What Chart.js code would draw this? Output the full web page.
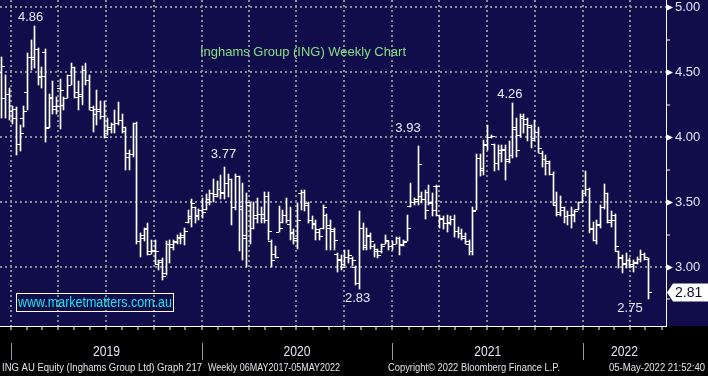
<!DOCTYPE html>
<html>
<head>
<meta charset="utf-8">
<title>Inghams Group (ING) Weekly Chart</title>
<script src="https://cdn.jsdelivr.net/npm/chart.js@4.4.1/dist/chart.umd.min.js"></script>
<style>
    html, body { margin: 0; padding: 0; background: #000; }
    #chart-wrap { width: 708px; height: 376px; }
</style>
</head>
<body>
<div id="chart-wrap"><canvas id="ing-weekly-chart" width="708" height="376"></canvas></div>
<script>
// weekly bars, week ending 14 Dec 2018 through 6 May 2022
var firstWeek = '2018-12-14';

var weekOpen = [
    4.50, 4.30, 4.33, 4.20, 4.22, 3.95, 4.15, 4.35, 4.62, 4.62, 4.68, 4.47, 4.66, 4.08, 4.30, 4.22, 4.38, 4.25, 4.30, 4.48,
    4.54, 4.35, 4.33, 4.52, 4.44, 4.23, 4.22, 4.20, 4.16, 4.03, 4.06, 4.10, 4.11, 4.13, 4.05, 3.85, 3.87, 4.11, 3.20, 3.25,
    3.30, 3.12, 3.12, 3.02, 3.05, 2.95, 3.18, 3.15, 3.20, 3.22, 3.25, 3.35, 3.38, 3.46, 3.40, 3.44, 3.45, 3.50, 3.57, 3.56,
    3.60, 3.58, 3.65, 3.68, 3.46, 3.70, 3.45, 3.25, 3.48, 3.30, 3.40, 3.41, 3.38, 3.55, 3.20, 3.10, 3.27, 3.35, 3.40, 3.33,
    3.26, 3.22, 3.57, 3.58, 3.48, 3.36, 3.34, 3.27, 3.30, 3.40, 3.32, 3.28, 3.10, 3.05, 3.02, 3.08, 3.07, 3.00, 2.88, 3.30,
    3.17, 3.24, 3.16, 3.12, 3.12, 3.18, 3.20, 3.16, 3.18, 3.22, 3.17, 3.20, 3.47, 3.50, 3.52, 3.55, 3.52, 3.58, 3.50, 3.62,
    3.40, 3.37, 3.34, 3.35, 3.37, 3.28, 3.26, 3.22, 3.18, 3.12, 3.44, 3.84, 3.75, 3.95, 4.00, 3.95, 3.80, 3.88, 3.90, 3.82,
    3.86, 4.06, 4.02, 4.16, 4.14, 4.08, 3.99, 4.04, 3.88, 3.83, 3.80, 3.72, 3.48, 3.42, 3.44, 3.39, 3.40, 3.41, 3.45, 3.50,
    3.57, 3.60, 3.30, 3.21, 3.33, 3.46, 3.57, 3.36, 3.40, 3.12, 3.08, 3.02, 3.05, 3.02, 3.03, 3.06, 3.10, 3.06
];
var weekHigh = [
    4.62, 4.48, 4.38, 4.24, 4.23, 4.09, 4.24, 4.65, 4.75, 4.86, 4.69, 4.54, 4.68, 4.33, 4.43, 4.31, 4.45, 4.31, 4.48, 4.57,
    4.54, 4.43, 4.55, 4.57, 4.48, 4.24, 4.36, 4.28, 4.28, 4.15, 4.11, 4.21, 4.27, 4.18, 4.08, 3.90, 4.11, 4.12, 3.26, 3.30,
    3.34, 3.21, 3.21, 3.05, 3.07, 3.20, 3.21, 3.21, 3.25, 3.26, 3.30, 3.44, 3.52, 3.46, 3.45, 3.53, 3.56, 3.59, 3.68, 3.66,
    3.71, 3.77, 3.72, 3.68, 3.72, 3.70, 3.65, 3.57, 3.49, 3.50, 3.53, 3.46, 3.58, 3.58, 3.21, 3.16, 3.47, 3.44, 3.53, 3.46,
    3.29, 3.49, 3.59, 3.59, 3.50, 3.39, 3.36, 3.29, 3.48, 3.41, 3.36, 3.30, 3.11, 3.09, 3.13, 3.13, 3.08, 3.01, 3.43, 3.34,
    3.30, 3.26, 3.18, 3.14, 3.18, 3.25, 3.20, 3.20, 3.23, 3.23, 3.21, 3.40, 3.65, 3.53, 3.93, 3.58, 3.59, 3.63, 3.57, 3.63,
    3.40, 3.39, 3.40, 3.39, 3.40, 3.31, 3.29, 3.26, 3.21, 3.46, 3.87, 3.87, 3.98, 4.09, 4.02, 3.95, 3.94, 3.94, 3.94, 3.97,
    4.26, 4.15, 4.18, 4.18, 4.15, 4.09, 4.13, 4.08, 3.89, 3.86, 3.82, 3.73, 3.58, 3.55, 3.46, 3.43, 3.46, 3.44, 3.50, 3.59,
    3.74, 3.61, 3.35, 3.36, 3.48, 3.64, 3.57, 3.43, 3.41, 3.12, 3.09, 3.11, 3.07, 3.05, 3.08, 3.13, 3.11, 3.07
];
var weekLow = [
    4.15, 4.15, 4.13, 4.10, 3.86, 3.89, 4.08, 4.21, 4.52, 4.53, 4.40, 4.38, 3.96, 4.07, 4.18, 4.18, 4.06, 4.21, 4.30, 4.40,
    4.30, 4.21, 4.25, 4.40, 4.21, 4.04, 4.09, 4.14, 3.99, 4.02, 4.03, 4.03, 4.09, 4.03, 3.75, 3.75, 3.85, 3.18, 3.08, 3.20,
    3.09, 3.10, 3.02, 2.98, 2.90, 2.94, 3.03, 3.13, 3.18, 3.18, 3.17, 3.34, 3.31, 3.34, 3.36, 3.38, 3.44, 3.48, 3.50, 3.54,
    3.52, 3.52, 3.54, 3.32, 3.44, 3.12, 3.05, 3.00, 3.18, 3.29, 3.34, 3.34, 3.34, 3.21, 3.00, 3.07, 3.27, 3.34, 3.34, 3.21,
    3.18, 3.14, 3.44, 3.43, 3.34, 3.29, 3.21, 3.21, 3.29, 3.13, 3.13, 3.13, 2.96, 2.98, 3.01, 3.03, 3.01, 2.86, 2.83, 3.13,
    3.13, 3.14, 3.08, 3.07, 3.11, 3.18, 3.13, 3.13, 3.18, 3.09, 3.16, 3.20, 3.46, 3.48, 3.48, 3.49, 3.37, 3.48, 3.39, 3.39,
    3.30, 3.29, 3.27, 3.32, 3.23, 3.22, 3.21, 3.18, 3.09, 3.09, 3.44, 3.70, 3.71, 3.90, 3.99, 3.74, 3.75, 3.81, 3.67, 3.80,
    3.84, 3.85, 4.00, 4.03, 3.97, 3.92, 3.98, 3.88, 3.77, 3.71, 3.71, 3.48, 3.39, 3.39, 3.34, 3.32, 3.30, 3.35, 3.44, 3.49,
    3.55, 3.26, 3.20, 3.18, 3.30, 3.45, 3.34, 3.31, 3.12, 2.99, 2.95, 2.99, 2.99, 2.96, 3.02, 3.04, 3.05, 2.75
];
var weekClose = [
    4.55, 4.33, 4.20, 4.15, 3.95, 4.03, 4.20, 4.62, 4.60, 4.68, 4.46, 4.47, 4.07, 4.31, 4.24, 4.24, 4.36, 4.30, 4.40, 4.54,
    4.31, 4.32, 4.52, 4.44, 4.21, 4.18, 4.22, 4.16, 4.00, 4.08, 4.10, 4.11, 4.13, 4.08, 3.88, 3.87, 4.11, 3.20, 3.22, 3.29,
    3.10, 3.13, 3.12, 3.04, 2.93, 3.18, 3.18, 3.19, 3.23, 3.23, 3.28, 3.39, 3.49, 3.39, 3.44, 3.42, 3.52, 3.57, 3.55, 3.60,
    3.57, 3.65, 3.68, 3.46, 3.70, 3.47, 3.22, 3.50, 3.30, 3.38, 3.41, 3.41, 3.36, 3.28, 3.05, 3.08, 3.30, 3.40, 3.36, 3.27,
    3.21, 3.36, 3.58, 3.49, 3.36, 3.33, 3.29, 3.24, 3.46, 3.30, 3.29, 3.21, 3.06, 3.00, 3.08, 3.09, 3.05, 2.88, 3.30, 3.15,
    3.25, 3.20, 3.14, 3.09, 3.16, 3.21, 3.16, 3.18, 3.22, 3.18, 3.19, 3.30, 3.50, 3.51, 3.79, 3.52, 3.44, 3.49, 3.44, 3.62,
    3.38, 3.34, 3.34, 3.37, 3.28, 3.26, 3.24, 3.20, 3.12, 3.43, 3.84, 3.76, 3.94, 4.00, 4.01, 3.80, 3.90, 3.91, 3.83, 3.86,
    4.08, 3.90, 4.15, 4.10, 4.09, 3.98, 4.04, 3.92, 3.83, 3.82, 3.72, 3.50, 3.41, 3.46, 3.39, 3.40, 3.40, 3.43, 3.50, 3.57,
    3.60, 3.29, 3.21, 3.32, 3.46, 3.57, 3.35, 3.36, 3.16, 3.07, 3.03, 3.05, 3.01, 3.04, 3.06, 3.10, 3.08, 2.81
];

var priceTicks = [2.75, 3.00, 3.25, 3.50, 3.75, 4.00, 4.25, 4.50, 4.75, 5.00];
var yearLabels = ['2019', '2020', '2021', '2022'];

// price call-outs: which bar, which value
var noteText = ['4.86', '3.77', '3.93', '4.26', '2.83', '2.75'];
var noteBar = [9, 61, 114, 140, 98, 177];
var noteValue = [4.86, 3.77, 3.93, 4.26, 2.83, 2.75];
var noteShiftX = [-4, -1, -10, -3, -2, -18];
var noteShiftY = [-8, -13, -18, -9, 9, 9];

var chartTitle = 'Inghams Group (ING) Weekly Chart';
var siteText = 'www.marketmatters.com.au';
var footerSecurity = 'ING AU Equity (Inghams Group Ltd) Graph 217';
var footerRange = 'Weekly 06MAY2017-05MAY2022';
var footerCopyright = 'Copyright\u00a9 2022 Bloomberg Finance L.P.';
var footerStamp = '05-May-2022 21:52:40';

var NAVY = '#100d4a';
var GRID = '#8a8a92';
var LABEL = '#e4e4f2';
var FONT = '"Liberation Sans", Arial, sans-serif';

function dayNumber(iso) {
    return Date.parse(iso + 'T00:00:00Z') / 86400000;
}

var startDay = dayNumber(firstWeek);
var weekDays = weekOpen.map(function (v, i) { return startDay + 7 * i; });
var xFrom = startDay - 3.5;
var xTo = xFrom + 1277;

var monthStarts = [];
for (var yr = 2019; yr <= 2022; yr++) {
    for (var mo = 1; mo <= 12; mo++) {
        var d = dayNumber(yr + '-' + (mo < 10 ? '0' + mo : mo) + '-01');
        if (d < xTo) monthStarts.push({ value: d, month: mo });
    }
}

var ranges = weekDays.map(function (d, i) {
    return { x: d, y: [weekLow[i], weekHigh[i]] };
});

function noPadding(scale) {
    scale.paddingTop = 0;
    scale.paddingBottom = 0;
    scale.paddingLeft = 0;
    scale.paddingRight = 0;
}

var backdrop = {
    id: 'backdrop',
    beforeDraw: function (chart) {
        var ctx = chart.ctx;
        ctx.save();
        ctx.fillStyle = NAVY;
        ctx.fillRect(0, 0, chart.width, chart.height);
        ctx.fillStyle = '#000000';
        ctx.fillRect(0, chart.chartArea.bottom, chart.width, chart.height - chart.chartArea.bottom);
        ctx.restore();
    }
};

var ohlcTicks = {
    id: 'ohlcTicks',
    beforeDatasetsDraw: function (chart) {
        chart.getDatasetMeta(0).data.forEach(function (bar) {
            bar.x = Math.round(bar.x - 0.5) + 0.5;
            bar.y = Math.round(bar.y);
            bar.base = Math.round(bar.base);
        });
    },
    afterDatasetsDraw: function (chart) {
        var ctx = chart.ctx;
        var y = chart.scales.y;
        ctx.save();
        ctx.fillStyle = '#ffffff';
        chart.getDatasetMeta(0).data.forEach(function (bar, i) {
            var left = bar.x - 0.5;
            ctx.fillRect(left - 3, Math.round(y.getPixelForValue(weekOpen[i])), 3, 1);
            ctx.fillRect(left + 1, Math.round(y.getPixelForValue(weekClose[i])), 3, 1);
        });
        ctx.restore();
    }
};

var dressing = {
    id: 'dressing',
    afterDraw: function (chart) {
        var ctx = chart.ctx;
        var area = chart.chartArea;
        var x = chart.scales.x;
        var y = chart.scales.y;
        ctx.save();

        // arrow heads on the major price ticks
        ctx.fillStyle = '#ffffff';
        priceTicks.forEach(function (v) {
            if (Math.round(v * 100) % 50 !== 0) return;
            var py = Math.round(y.getPixelForValue(v)) + 0.5;
            ctx.beginPath();
            ctx.moveTo(area.right, py - 3.5);
            ctx.lineTo(area.right + 7, py);
            ctx.lineTo(area.right, py + 3.5);
            ctx.closePath();
            ctx.fill();
        });

        // last price flag
        var last = weekClose[weekClose.length - 1];
        var ly = Math.round(y.getPixelForValue(last)) + 0.5;
        ctx.beginPath();
        ctx.moveTo(area.right + 1, ly);
        ctx.lineTo(area.right + 7, ly - 9);
        ctx.lineTo(chart.width, ly - 9);
        ctx.lineTo(chart.width, ly + 9);
        ctx.lineTo(area.right + 7, ly + 9);
        ctx.closePath();
        ctx.fill();
        ctx.fillStyle = '#0c0b30';
        ctx.font = '14px ' + FONT;
        ctx.textBaseline = 'middle';
        ctx.textAlign = 'left';
        ctx.fillText(last.toFixed(2), area.right + 9, ly + 1);

        // high / low call-outs
        ctx.fillStyle = '#e8e8f6';
        ctx.font = '13px ' + FONT;
        ctx.textAlign = 'center';
        noteText.forEach(function (t, i) {
            var px = x.getPixelForValue(weekDays[noteBar[i]]) + noteShiftX[i];
            var py = y.getPixelForValue(noteValue[i]) + noteShiftY[i];
            ctx.fillText(t, px, py);
        });

        // title
        ctx.fillStyle = '#84e184';
        ctx.textAlign = 'left';
        ctx.font = '13px ' + FONT;
        ctx.fillText(chartTitle, 200, 52, 206);

        // web address box
        ctx.strokeStyle = '#ffffff';
        ctx.lineWidth = 1;
        ctx.strokeRect(16.5, 293.5, 157, 18);
        ctx.fillStyle = '#1ee4f0';
        ctx.font = '14px ' + FONT;
        ctx.fillText(siteText, 18, 303, 154);

        // year bands under the axis
        ctx.strokeStyle = '#9a9aa0';
        ctx.fillStyle = LABEL;
        ctx.font = '15px ' + FONT;
        ctx.textAlign = 'center';
        yearLabels.forEach(function (label) {
            var from = x.getPixelForValue(dayNumber(label + '-01-01'));
            var toDay = Math.min(dayNumber((+label + 1) + '-01-01'), xTo);
            var to = x.getPixelForValue(toDay);
            var sx = Math.round(from) + 0.5;
            ctx.beginPath();
            ctx.moveTo(sx, area.bottom + 17);
            ctx.lineTo(sx, area.bottom + 34);
            ctx.stroke();
            ctx.fillText(label, (from + to) / 2, area.bottom + 26, 27);
        });

        // footer
        ctx.fillStyle = '#e2e2ea';
        ctx.font = '11px ' + FONT;
        ctx.textAlign = 'left';
        ctx.fillText(footerSecurity, 2, 368, 200);
        ctx.fillText(footerRange, 208, 368, 132);
        ctx.fillText(footerCopyright, 388, 368, 172);
        ctx.fillText(footerStamp, 609, 368, 96);

        ctx.restore();
    }
};

var ingChart = new Chart(document.getElementById('ing-weekly-chart'), {
    type: 'bar',
    data: {
        datasets: [{
            label: 'ING weekly range',
            data: ranges,
            backgroundColor: '#ffffff',
            borderWidth: 0,
            barThickness: 1
        }]
    },
    plugins: [backdrop, ohlcTicks, dressing],
    options: {
        responsive: false,
        animation: false,
        devicePixelRatio: 1,
        layout: { padding: 0 },
        plugins: {
            legend: { display: false },
            tooltip: { enabled: false }
        },
        scales: {
            x: {
                type: 'linear',
                min: xFrom,
                max: xTo,
                offset: false,
                afterBuildTicks: function (scale) {
                    scale.ticks = monthStarts.map(function (m) { return { value: m.value }; });
                },
                afterFit: function (scale) {
                    scale.height = 50;
                    noPadding(scale);
                },
                ticks: { display: false, autoSkip: false },
                grid: {
                    offset: false,
                    lineWidth: 2,
                    color: function (c) {
                        var m = monthStarts[c.index];
                        return m && (m.month - 1) % 3 === 0 ? GRID : 'rgba(0,0,0,0)';
                    },
                    tickColor: '#ffffff',
                    tickWidth: 1,
                    tickLength: 4
                },
                border: { display: true, color: '#ffffff', width: 1, dash: [2, 3] }
            },
            y: {
                position: 'right',
                min: 2.545,
                max: 5.057,
                beginAtZero: false,
                afterBuildTicks: function (scale) {
                    scale.ticks = priceTicks.map(function (v) { return { value: v }; });
                },
                afterFit: function (scale) {
                    scale.width = 42;
                    noPadding(scale);
                },
                ticks: {
                    autoSkip: false,
                    padding: 5,
                    color: LABEL,
                    font: { family: FONT, size: 13 },
                    callback: function (v) {
                        return Math.round(v * 100) % 50 === 0 ? v.toFixed(2) : '';
                    }
                },
                grid: {
                    lineWidth: 2,
                    color: function (c) {
                        var v = c.tick ? c.tick.value : 0;
                        return Math.round(v * 100) % 50 === 0 ? GRID : 'rgba(0,0,0,0)';
                    },
                    tickColor: '#ffffff',
                    tickWidth: 1,
                    tickLength: 4
                },
                border: { display: true, color: '#ffffff', width: 1, dash: [2, 3] }
            }
        }
    }
});
</script>
</body>
</html>
